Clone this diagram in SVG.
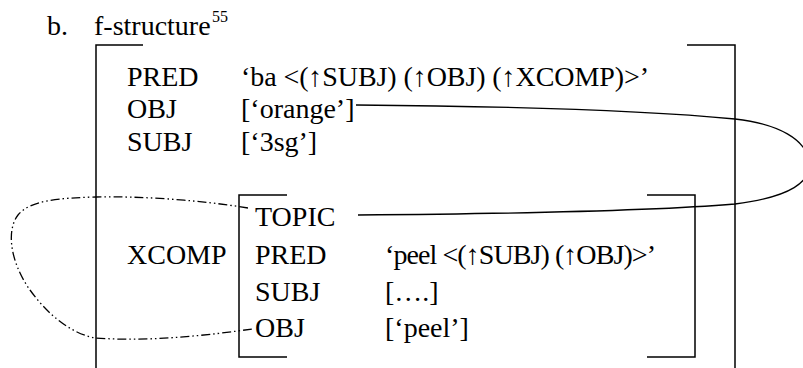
<svg xmlns="http://www.w3.org/2000/svg" width="803" height="368" viewBox="0 0 803 368">
<style>
text { font-family: "Liberation Serif", "Times New Roman", serif; font-size: 28px; fill: #000; }
.sup { font-size: 16px; }
.br { fill: none; stroke: #000; stroke-width: 1.5; }
.link { fill: none; stroke: #000; stroke-width: 1.3; }
.dd { stroke-dasharray: 9 3 1.5 3 1.5 3; }
</style>
<rect width="803" height="368" fill="#fff"/>
<g id="header">
<text x="47" y="35">b.</text>
<text x="94" y="35">f-structure</text>
<text class="sup" x="212" y="22">55</text>
</g>
<g id="fs-main">
<path class="br" d="M143,45 H96 V368"/>
<path class="br" d="M687,45 H735 V368"/>
<text x="127" y="86">PRED</text>
<text x="241" y="86" textLength="408" lengthAdjust="spacing">‘ba &lt;(↑SUBJ) (↑OBJ) (↑XCOMP)&gt;’</text>
<text x="127" y="118">OBJ</text>
<text x="241" y="118">[‘orange’]</text>
<text x="127" y="151">SUBJ</text>
<text x="241" y="151">[‘3sg’]</text>
<text x="127" y="264">XCOMP</text>
</g>
<g id="fs-xcomp">
<path class="br" d="M287,195 H239 V357 H287"/>
<path class="br" d="M647,195 H695 V357 H647"/>
<text x="255" y="226">TOPIC</text>
<text x="255" y="264">PRED</text>
<text x="385" y="264" textLength="271" lengthAdjust="spacing">‘peel &lt;(↑SUBJ) (↑OBJ)&gt;’</text>
<text x="255" y="301">SUBJ</text>
<text x="385" y="301">[….]</text>
<text x="255" y="337">OBJ</text>
<text x="385" y="337">[‘peel’]</text>
</g>
<g id="connectors">
<path class="link" d="M356,105 C480,106 640,110 735,119 C780,124 805,140 809,160 C813,182 790,197 735,204 C640,212 480,214 358,215"/>
<path class="link dd" d="M248,208 C200,200 140,196 96,197 C60,198 30,200 18,215 C5,232 12,265 30,290 C50,318 75,335 96,338 C150,342 210,335 252,329"/>
</g>
</svg>
